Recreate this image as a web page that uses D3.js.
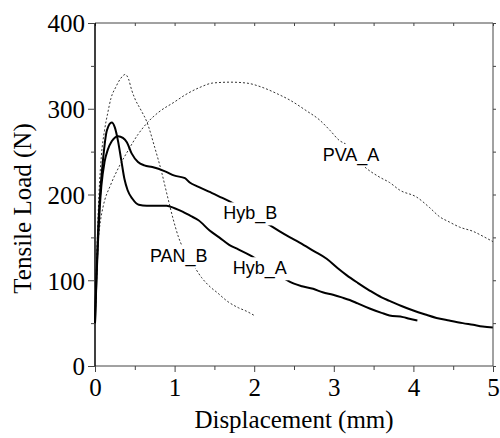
<!DOCTYPE html>
<html>
<head>
<meta charset="utf-8">
<script src="https://cdn.jsdelivr.net/npm/d3@7"></script>
<style>
body { margin: 0; background: #fff; }
svg { display: block; }
</style>
</head>
<body>
<script>
//curve data: [displacement (mm), load (N)]
var hybA = [[0,50],[0.02,110],[0.04,160],[0.06,195],[0.1,240],[0.15,275],[0.21,284],[0.25,278],[0.29,262],[0.33,240],[0.37,218],[0.41,205],[0.47,195],[0.55,188],[0.65,187],[0.8,187],[0.9,187],[1.0,184],[1.1,180],[1.2,175],[1.3,170],[1.44,158],[1.56,150],[1.69,141],[1.8,136],[1.95,129],[2.1,120],[2.25,110],[2.38,102],[2.5,96],[2.6,93],[2.74,90],[2.86,86],[2.99,83],[3.1,80],[3.2,77],[3.3,73],[3.45,67],[3.6,62],[3.7,59],[3.87,57],[3.95,55],[4.05,53]];
var hybB = [[0,50],[0.02,105],[0.04,150],[0.06,185],[0.08,210],[0.12,238],[0.16,252],[0.21,262],[0.29,268],[0.35,266],[0.4,261],[0.46,248],[0.54,238],[0.62,234],[0.72,232],[0.88,227],[1.0,222],[1.13,219],[1.19,214],[1.3,209],[1.44,203],[1.6,196],[1.73,190],[1.9,180],[2.05,172],[2.2,164],[2.32,157],[2.45,150],[2.57,144],[2.75,134],[2.91,125],[3.05,114],[3.16,106],[3.3,97],[3.45,88],[3.6,80],[3.7,76],[3.85,70],[3.99,65],[4.15,60],[4.29,56],[4.45,53],[4.62,50],[4.75,48],[4.87,46],[5.0,45]];
var panB = [[0,50],[0.02,120],[0.05,200],[0.08,245],[0.12,275],[0.16,295],[0.2,312],[0.26,325],[0.32,335],[0.38,340],[0.42,335],[0.46,322],[0.5,312],[0.58,298],[0.65,285],[0.75,255],[0.84,225],[0.91,198],[0.98,172],[1.05,150],[1.15,130],[1.22,120],[1.34,103],[1.45,92],[1.53,86],[1.67,75],[1.8,68],[1.9,64],[2.0,59]];
var pvaA = [[0,50],[0.02,100],[0.04,143],[0.07,170],[0.1,185],[0.2,212],[0.3,232],[0.42,252],[0.54,270],[0.66,284],[0.8,296],[1.0,308],[1.13,316],[1.32,325],[1.48,330],[1.7,331],[1.9,330],[2.1,325],[2.3,317],[2.45,310],[2.65,298],[2.82,287],[2.95,275],[3.07,263],[3.16,258],[3.3,240],[3.39,232],[3.58,220],[3.7,214],[3.83,205],[4.04,197],[4.2,185],[4.33,174],[4.45,168],[4.58,162],[4.75,157],[4.9,150],[5.0,145]];

var xTicks = [0, 1, 2, 3, 4, 5];
var xMinor = [0.5, 1.5, 2.5, 3.5, 4.5];
var yTicks = [0, 100, 200, 300, 400];
var yMinor = [50, 150, 250, 350];

var seriesNames = ["PVA_A", "PAN_B", "Hyb_A", "Hyb_B"];
var seriesData = [pvaA, panB, hybA, hybB];
var seriesDotted = [true, true, false, false];
//label anchor in data units (displacement, load)
var labelX = [2.86, 0.69, 1.73, 1.61];
var labelY = [239, 121, 107, 171];

(function(){

var width = 500, height = 438;
var margin = {top: 23, right: 7, bottom: 72, left: 95};

var svg = d3.select("body").append("svg")
    .attr("width", width)
    .attr("height", height);

var x = d3.scaleLinear().domain([0, 5]).range([margin.left, width - margin.right]);
var y = d3.scaleLinear().domain([0, 400]).range([height - margin.bottom, margin.top]);

var serif = "'Liberation Serif', 'Times New Roman', serif";
var sans = "'Liberation Sans', Arial, sans-serif";

//curves
var line = d3.line()
    .x(function(d){ return x(d[0]); })
    .y(function(d){ return y(d[1]); })
    .curve(d3.curveMonotoneX);

seriesData.forEach(function(data, i){
    svg.append("path")
        .datum(data)
        .attr("fill", "none")
        .attr("stroke", seriesDotted[i] ? "#333" : "#000")
        .attr("stroke-width", seriesDotted[i] ? 1 : 2)
        .attr("stroke-dasharray", seriesDotted[i] ? "2,2" : null)
        .attr("d", line);
});

//labels with white box behind
seriesNames.forEach(function(name, i){
    var g = svg.append("g");
    var t = g.append("text")
        .attr("x", x(labelX[i]))
        .attr("y", y(labelY[i]))
        .attr("font-family", sans)
        .attr("font-size", 18)
        .attr("fill", "#000")
        .text(name);
    var bb = t.node().getBBox();
    g.insert("rect", "text")
        .attr("x", bb.x - 3).attr("y", bb.y - 1)
        .attr("width", bb.width + 6).attr("height", bb.height + 2)
        .attr("fill", "#fff");
});

//axes
var bottomAxis = svg.append("g")
    .attr("transform", "translate(0," + y(0) + ")")
    .call(d3.axisBottom(x).tickValues(xTicks).tickSize(6).tickFormat(d3.format("d")));
var bottomMinor = svg.append("g")
    .attr("transform", "translate(0," + y(0) + ")")
    .call(d3.axisBottom(x).tickValues(xMinor).tickSize(4).tickFormat(""));
var topAxis = svg.append("g")
    .attr("transform", "translate(0," + y(400) + ")")
    .call(d3.axisBottom(x).tickValues(xTicks.concat(xMinor)).tickSize(3).tickFormat(""));
var leftAxis = svg.append("g")
    .attr("transform", "translate(" + x(0) + ",0)")
    .call(d3.axisLeft(y).tickValues(yTicks).tickSize(7).tickPadding(3));
var leftMinor = svg.append("g")
    .attr("transform", "translate(" + x(0) + ",0)")
    .call(d3.axisLeft(y).tickValues(yMinor).tickSize(4).tickFormat(""));
var rightAxis = svg.append("g")
    .attr("transform", "translate(" + x(5) + ",0)")
    .call(d3.axisRight(y).tickValues(yTicks.concat(yMinor)).tickSize(3).tickFormat(""));

[bottomAxis, bottomMinor, topAxis, leftAxis, leftMinor, rightAxis].forEach(function(a){
    a.selectAll("path").attr("stroke", "#444").attr("stroke-width", 1);
    a.selectAll("line").attr("stroke", "#444").attr("stroke-width", 1);
    a.selectAll("text").attr("font-family", serif).attr("font-size", 25).attr("fill", "#000");
});
bottomMinor.select("path").remove();
leftMinor.select("path").remove();
topAxis.select("path").attr("d", "M" + x(0) + ",0H" + x(5));
rightAxis.select("path").attr("d", "M0," + y(0) + "V" + y(400));
bottomAxis.select("path").attr("d", "M" + x(0) + ",0H" + x(5));
leftAxis.select("path").attr("d", "M0," + y(0) + "V" + y(400)).attr("stroke", "#000").attr("stroke-width", 1.5);
bottomAxis.selectAll("text").attr("dy", "0.85em");
leftAxis.selectAll("text").attr("dy", "0.35em");

//axis titles
svg.append("text")
    .attr("x", (x(0) + x(5)) / 2)
    .attr("y", 428)
    .attr("text-anchor", "middle")
    .attr("font-family", serif)
    .attr("font-size", 25)
    .text("Displacement (mm)");

svg.append("text")
    .attr("transform", "translate(31," + (y(200) + 14) + ") rotate(-90)")
    .attr("text-anchor", "middle")
    .attr("font-family", serif)
    .attr("font-size", 25)
    .text("Tensile Load (N)");

})();
</script>
</body>
</html>
